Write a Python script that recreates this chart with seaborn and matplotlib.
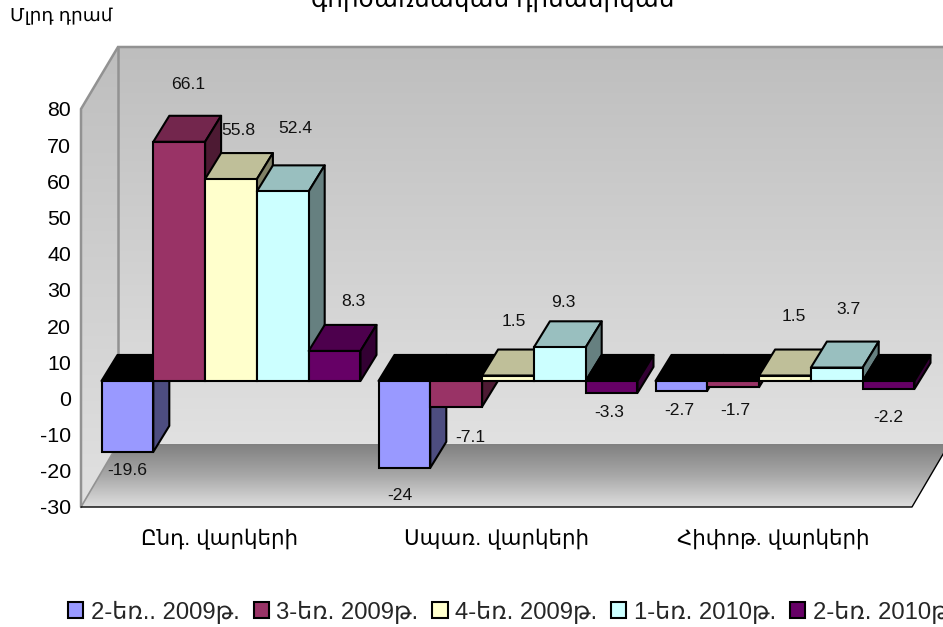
import numpy as np
import pandas as pd
import matplotlib
matplotlib.use("Agg")
import matplotlib.pyplot as plt
import seaborn as sns
from matplotlib.colors import LinearSegmentedColormap, to_rgb
from matplotlib.patches import Polygon

# ---- data ----
categories = ["Ընդ. վարկերի", "Սպառ. վարկերի", "Հիփոթ. վարկերի"]
series_names = ["2-եռ.. 2009թ.", "3-եռ. 2009թ.", "4-եռ. 2009թ.", "1-եռ. 2010թ.", "2-եռ. 2010թ."]
q2_2009 = [-19.6, -24, -2.7]
q3_2009 = [66.1, -7.1, -1.7]
q4_2009 = [55.8, 1.5, 1.5]
q1_2010 = [52.4, 9.3, 3.7]
q2_2010 = [8.3, -3.3, -2.2]
series_values = [q2_2009, q3_2009, q4_2009, q1_2010, q2_2010]
colors = ["#9999FF", "#993366", "#FFFFCC", "#CCFFFF", "#660066"]
y_ticks = [-30, -20, -10, 0, 10, 20, 30, 40, 50, 60, 70, 80]
title_text = "գործառնական դինամիկան"
unit_text = "Մլրդ դրամ"

# ---- layout (pixels) ----
W, H = 943, 627
L, R, T, B = 81, 912, 109, 507        # front plane of the value axis
WALL_DX, WALL_DY = 37, 63             # depth of walls
BAR_SHIFT_X, BAR_SHIFT_Y = 11.5, 17.5 # bars stand mid-depth
BAR_DX, BAR_DY = 16, 26               # depth of bars
LABEL_OFFSETS = [  # px offset from bar end, per series then category
    [(0, 19), (-5, 28), (-2, 20)],
    [(9, -57), (14, 31), (2, 23)],
    [(7, -49), (6, -54), (9, -59)],
    [(13, -63), (4, -45), (12, -58)],
    [(19, -49), (-2, 20), (0, 29)],
]

sns.set_theme(style="white")
FONTS = ["Liberation Sans", "DejaVu Sans"]
plt.rcParams["font.family"] = FONTS
plt.rcParams["axes.unicode_minus"] = False
fig = plt.figure(figsize=(W / 100, H / 100), dpi=100, facecolor="white")


def frac(x0, y0, x1, y1):
    return [x0 / W, 1 - y1 / H, (x1 - x0) / W, (y1 - y0) / H]


# ---- walls and floor ----
bg = fig.add_axes([0, 0, 1, 1], zorder=0)
bg.set_axis_off()
wall_top, wall_bot = T - WALL_DY + 1, B - WALL_DY
wall_cmap = LinearSegmentedColormap.from_list("w", ["#BEBEBE", "#E1E1E1"])
floor_cmap = LinearSegmentedColormap.from_list("f", ["#808080", "#A8A8A8", "#DEDEDE"])
ramp = np.linspace(0, 1, 256).reshape(-1, 1)


def gradient(pts, y0, y1, cmap):
    xs = [p[0] for p in pts]
    im = bg.imshow(ramp, extent=(min(xs), max(xs), y1, y0), cmap=cmap, aspect="auto",
                   vmin=0, vmax=1, zorder=1)
    clip = Polygon(pts, closed=True, transform=bg.transData, fc="none", ec="none")
    bg.add_patch(clip)
    im.set_clip_path(clip)


bx0, bx1 = L + WALL_DX, R + WALL_DX
gradient([(bx0, wall_top), (bx1, wall_top), (bx1, wall_bot), (bx0, wall_bot)], wall_top, wall_bot, wall_cmap)
gradient([(L, T), (bx0, wall_top), (bx0, wall_bot), (L, B)], wall_top, B, wall_cmap)
gradient([(L, B), (bx0, wall_bot), (bx1, wall_bot), (R, B)], wall_bot, B, floor_cmap)
gray = "#929292"
bg.plot([L, L, bx0, W], [B, T, wall_top, wall_top], color=gray, lw=1.8, zorder=2, solid_joinstyle="miter")
bg.plot([bx0, bx0], [wall_top, wall_bot], color=gray, lw=1.8, zorder=2)
bg.plot([L, bx0], [B, wall_bot], color=gray, lw=1.2, zorder=2)
bg.plot([L, R, bx1], [B, B, wall_bot], color="black", lw=1.0, zorder=3)
bg.set_xlim(0, W)
bg.set_ylim(H, 0)

# ---- value axis on front plane ----
ax = fig.add_axes(frac(L, T, R, B), zorder=1)
ax.patch.set_alpha(0)
ax.set_ylim(-30, 80)
ax.set_xlim(-0.5, 2.5)
ax.set_yticks(y_ticks)
ax.set_xticks(range(3))
ax.set_xticklabels(categories)
ax.tick_params(axis="y", length=0, pad=7, labelsize=15.4, labelcolor="black")
ax.tick_params(axis="x", length=0, pad=15, labelsize=15.4, labelcolor="black")
sns.despine(ax=ax, left=True, bottom=True)

# ---- bars ----
axb = fig.add_axes(frac(L + BAR_SHIFT_X, T - BAR_SHIFT_Y, R + BAR_SHIFT_X, B - BAR_SHIFT_Y), zorder=2)
axb.patch.set_alpha(0)
df = pd.DataFrame(
    [(c, s, series_values[i][j]) for i, s in enumerate(series_names) for j, c in enumerate(categories)],
    columns=["cat", "series", "value"],
)
sns.barplot(
    data=df, x="cat", y="value", hue="series", order=categories, hue_order=series_names,
    palette=colors, saturation=1, width=0.935, gap=0, edgecolor="black", linewidth=1.5, ax=axb,
)
axb.set_xlim(-0.5, 2.5)
axb.set_ylim(-30, 80)
axb.set_axis_off()

px_x = 3 / (R - L)
px_y = 110 / (B - T)
dx, dy = BAR_DX * px_x, BAR_DY * px_y


def shade(col, k):
    return tuple(c * k for c in to_rgb(col))


for i, cont in enumerate(axb.containers):
    for j, rect in enumerate(cont):
        x0 = rect.get_x()
        x1 = x0 + rect.get_width()
        val = series_values[i][j]
        z = 5 + i * 2
        rect.set_zorder(z + 1)
        top = max(val, 0)
        top_col = shade(colors[i], 0.75) if val > 0 else "black"
        axb.add_patch(Polygon([(x0, top), (x0 + dx, top + dy), (x1 + dx, top + dy), (x1, top)],
                              closed=True, fc=top_col, ec="black", lw=1.5, zorder=z, clip_on=False,
                              joinstyle="round"))
        axb.add_patch(Polygon([(x1, 0), (x1 + dx, dy), (x1 + dx, val + dy), (x1, val)],
                              closed=True, fc=shade(colors[i], 0.5), ec="black", lw=1.5, zorder=z,
                              clip_on=False, joinstyle="round"))
        ox, oy = LABEL_OFFSETS[i][j]
        axb.annotate(f"{val:g}", xy=((x0 + x1) / 2, val), xytext=(ox * 0.72, -oy * 0.72),
                     textcoords="offset points", ha="center", va="center",
                     fontsize=12.6, color="#111111", zorder=30, annotation_clip=False)

# ---- legend ----
sns.move_legend(
    axb, "center left", bbox_to_anchor=(68 / W, 1 - 612 / H), bbox_transform=fig.transFigure,
    ncol=5, frameon=False, title=None, fontsize=17.2, handlelength=0.63, handleheight=0.63,
    handletextpad=0.33, columnspacing=0.58, borderpad=0, borderaxespad=0,
)

# ---- texts ----
fig.text(493 / W, 1 - 7 / H, title_text, ha="center", va="baseline", fontsize=17.8, color="black")
fig.text(61 / W, 1 - 16 / H, unit_text, ha="center", va="center", fontsize=13.3, color="black")

fig.savefig("out.png", dpi=100, facecolor="white")
